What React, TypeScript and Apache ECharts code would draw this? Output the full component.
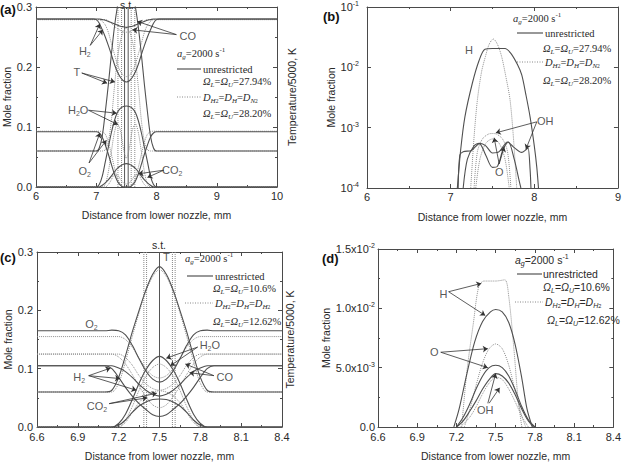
import React, { useEffect, useRef } from "react";
import * as echarts from "echarts";

// ---------- Panel (a): shared x grid (mm) ----------
const xA = [6, 6.95, 7.0, 7.05, 7.1, 7.15, 7.2, 7.25, 7.3, 7.35, 7.4, 7.45, 7.5, 7.55, 7.6, 7.65, 7.7, 7.75, 7.8, 7.85, 7.9, 7.95, 8.0, 8.05, 10];
const aT_s = [0.06, 0.06, 0.06, 0.065, 0.085, 0.125, 0.17, 0.22, 0.265, 0.3, 0.325, 0.338, 0.342, 0.338, 0.325, 0.3, 0.265, 0.22, 0.17, 0.125, 0.085, 0.065, 0.06, 0.06, 0.06];
const aT_d = [0.06, 0.06, 0.06, 0.06, 0.06, 0.062, 0.075, 0.11, 0.165, 0.213, 0.243, 0.259, 0.265, 0.259, 0.243, 0.213, 0.165, 0.11, 0.075, 0.062, 0.06, 0.06, 0.06, 0.06, 0.06];
const aH2_s = [0.28, 0.28, 0.279, 0.273, 0.262, 0.25, 0.236, 0.221, 0.205, 0.192, 0.183, 0.177, 0.175, 0.177, 0.183, 0.192, 0.205, 0.221, 0.236, 0.25, 0.262, 0.273, 0.279, 0.28, 0.28];
const aH2_d = [0.279, 0.279, 0.279, 0.279, 0.276, 0.27, 0.258, 0.24, 0.222, 0.205, 0.193, 0.186, 0.184, 0.186, 0.193, 0.205, 0.222, 0.24, 0.258, 0.27, 0.276, 0.279, 0.279, 0.279, 0.279];
const aCO_s = [0.28, 0.28, 0.28, 0.28, 0.279, 0.278, 0.276, 0.274, 0.272, 0.27, 0.268, 0.267, 0.266, 0.267, 0.268, 0.27, 0.272, 0.274, 0.276, 0.278, 0.279, 0.28, 0.28, 0.28, 0.28];
const aCO_d = [0.279, 0.279, 0.279, 0.279, 0.279, 0.279, 0.277, 0.273, 0.268, 0.264, 0.261, 0.259, 0.258, 0.259, 0.261, 0.264, 0.268, 0.273, 0.277, 0.279, 0.279, 0.279, 0.279, 0.279, 0.279];
const aO2_s = [0.092, 0.092, 0.092, 0.09, 0.083, 0.07, 0.055, 0.038, 0.022, 0.01, 0.003, 0, 0, 0, 0.003, 0.01, 0.022, 0.038, 0.055, 0.07, 0.083, 0.09, 0.092, 0.092, 0.092];
const aO2_d = [0.093, 0.093, 0.093, 0.093, 0.092, 0.088, 0.075, 0.055, 0.033, 0.015, 0.005, 0.001, 0, 0.001, 0.005, 0.015, 0.033, 0.055, 0.075, 0.088, 0.092, 0.093, 0.093, 0.093, 0.093];
const aH2O_s = [0, 0, 0, 0.004, 0.018, 0.042, 0.066, 0.09, 0.11, 0.124, 0.131, 0.134, 0.135, 0.134, 0.131, 0.124, 0.11, 0.09, 0.066, 0.042, 0.018, 0.004, 0, 0, 0];
const aH2O_d = [0, 0, 0, 0, 0, 0.005, 0.025, 0.058, 0.09, 0.105, 0.095, 0.065, 0.048, 0.065, 0.095, 0.105, 0.09, 0.058, 0.025, 0.005, 0, 0, 0, 0, 0];
const aCO2_s = [0, 0, 0, 0, 0.003, 0.007, 0.012, 0.018, 0.025, 0.031, 0.035, 0.038, 0.039, 0.038, 0.035, 0.031, 0.025, 0.018, 0.012, 0.007, 0.003, 0, 0, 0, 0];
const aCO2_d = [0, 0, 0, 0, 0, 0, 0.004, 0.012, 0.02, 0.02, 0.013, 0.007, 0.005, 0.007, 0.013, 0.02, 0.02, 0.012, 0.004, 0, 0, 0, 0, 0, 0];
const aVertSolid = [7.47, 7.53];
const aVertDotted = [7.36, 7.42, 7.58, 7.64];

// ---------- Panel (b): log scale, [x, y] pairs ----------
const bH_s = [[7.08, 1e-4], [7.12, 4.3e-4], [7.17, 1.5e-3], [7.26, 5.5e-3], [7.34, 1.3e-2], [7.41, 2e-2], [7.5, 2.05e-2], [7.65, 2.05e-2], [7.72, 1.7e-2], [7.8, 1.1e-2], [7.85, 7.5e-3], [7.9, 3.5e-3], [7.95, 1.5e-3], [8.0, 5e-4], [8.03, 2.2e-4], [8.05, 1e-4]];
const bH_d = [[7.24, 1e-4], [7.28, 7e-4], [7.32, 2.9e-3], [7.37, 8.5e-3], [7.415, 1.5e-2], [7.46, 2.4e-2], [7.51, 2.95e-2], [7.56, 2.4e-2], [7.61, 1.5e-2], [7.66, 7e-3], [7.71, 2.9e-3], [7.75, 7e-4], [7.79, 1e-4]];
const bOH_s = [[7.09, 1e-4], [7.11, 3.5e-4], [7.15, 4e-4], [7.25, 4.2e-4], [7.35, 5.5e-4], [7.42, 5e-4], [7.5, 3.8e-4], [7.58, 4e-4], [7.68, 5.8e-4], [7.75, 4.8e-4], [7.85, 3.9e-4], [7.9, 4.3e-4], [7.925, 4.6e-4], [7.95, 2e-4], [7.96, 1e-4]];
const bO_s = [[7.15, 1e-4], [7.2, 3e-4], [7.28, 5e-4], [7.34, 5.5e-4], [7.42, 3.5e-4], [7.5, 2.2e-4], [7.56, 2.3e-4], [7.63, 4.5e-4], [7.69, 5.8e-4], [7.76, 3e-4], [7.82, 1.3e-4], [7.84, 1e-4]];
const bOH_d = [[7.28, 1e-4], [7.32, 4e-4], [7.38, 6.5e-4], [7.45, 7.8e-4], [7.5, 8e-4], [7.55, 7.8e-4], [7.62, 6.5e-4], [7.68, 4e-4], [7.72, 1e-4]];
const bO_d = [[7.3, 1e-4], [7.35, 3e-4], [7.42, 5.5e-4], [7.5, 6.5e-4], [7.58, 5.5e-4], [7.65, 3e-4], [7.7, 1e-4]];

// ---------- Panel (c): shared x grid ----------
const xC = [6.6, 7.1, 7.15, 7.2, 7.25, 7.3, 7.35, 7.4, 7.45, 7.5, 7.55, 7.6, 7.65, 7.7, 7.75, 7.8, 7.85, 7.9, 8.4];
const cT_s = [0.06, 0.06, 0.063, 0.085, 0.122, 0.163, 0.2, 0.235, 0.262, 0.275, 0.262, 0.235, 0.2, 0.163, 0.122, 0.085, 0.063, 0.06, 0.06];
const cT_d = [0.06, 0.06, 0.06, 0.075, 0.112, 0.155, 0.196, 0.232, 0.258, 0.27, 0.258, 0.232, 0.196, 0.155, 0.112, 0.075, 0.06, 0.06, 0.06];
const cO2_s = [0.165, 0.165, 0.166, 0.165, 0.158, 0.14, 0.117, 0.096, 0.082, 0.077, 0.082, 0.096, 0.117, 0.14, 0.158, 0.165, 0.166, 0.165, 0.165];
const cO2_d = [0.155, 0.155, 0.155, 0.155, 0.15, 0.137, 0.118, 0.1, 0.088, 0.084, 0.088, 0.1, 0.118, 0.137, 0.15, 0.155, 0.155, 0.155, 0.155];
const cH2_s = [0.105, 0.105, 0.1, 0.085, 0.068, 0.053, 0.04, 0.03, 0.021, 0.018, 0.021, 0.03, 0.04, 0.053, 0.068, 0.085, 0.1, 0.105, 0.105];
const cH2_d = [0.125, 0.125, 0.125, 0.12, 0.108, 0.09, 0.07, 0.052, 0.038, 0.033, 0.038, 0.052, 0.07, 0.09, 0.108, 0.12, 0.125, 0.125, 0.125];
const cCO_s = [0.105, 0.105, 0.105, 0.101, 0.095, 0.085, 0.073, 0.063, 0.056, 0.053, 0.056, 0.063, 0.073, 0.085, 0.095, 0.101, 0.105, 0.105, 0.105];
const cCO_d = [0.125, 0.125, 0.125, 0.125, 0.119, 0.106, 0.088, 0.074, 0.066, 0.063, 0.066, 0.074, 0.088, 0.106, 0.119, 0.125, 0.125, 0.125, 0.125];
const cH2O_s = [0, 0, 0, 0.006, 0.022, 0.047, 0.075, 0.098, 0.114, 0.121, 0.114, 0.098, 0.075, 0.047, 0.022, 0.006, 0, 0, 0];
const cH2O_d = [0, 0, 0, 0, 0.012, 0.035, 0.063, 0.087, 0.102, 0.108, 0.102, 0.087, 0.063, 0.035, 0.012, 0, 0, 0, 0];
const cCO2_s = [0, 0, 0, 0.003, 0.012, 0.025, 0.036, 0.043, 0.047, 0.048, 0.047, 0.043, 0.036, 0.025, 0.012, 0.003, 0, 0, 0];
const cCO2_d = [0, 0, 0, 0, 0.008, 0.025, 0.042, 0.053, 0.06, 0.062, 0.06, 0.053, 0.042, 0.025, 0.008, 0, 0, 0, 0];
const cVertSolid = [7.5];
const cVertDotted = [7.385, 7.405, 7.595, 7.615];

// ---------- Panel (d): [x, y] pairs ----------
const dH_s = [[7.18, 0], [7.22, 0.0015], [7.28, 0.0045], [7.34, 0.0072], [7.4, 0.0089], [7.46, 0.0097], [7.5, 0.0099], [7.55, 0.0097], [7.6, 0.0088], [7.65, 0.0069], [7.7, 0.0041], [7.74, 0.0015], [7.78, 0]];
const dH_d = [[7.24, 0], [7.28, 0.0047], [7.33, 0.0088], [7.37, 0.0118], [7.41, 0.0123], [7.5, 0.0123], [7.57, 0.0124], [7.6, 0.011], [7.64, 0.0065], [7.67, 0.0025], [7.7, 0]];
const dO_s = [[7.2, 0], [7.25, 0.0008], [7.3, 0.0019], [7.35, 0.0032], [7.4, 0.0043], [7.45, 0.005], [7.5, 0.0052], [7.55, 0.005], [7.6, 0.0043], [7.65, 0.0031], [7.7, 0.0017], [7.75, 0.0006], [7.8, 0]];
const dO_d = [[7.26, 0], [7.3, 0.0014], [7.35, 0.0035], [7.4, 0.0054], [7.45, 0.0066], [7.5, 0.007], [7.55, 0.0066], [7.6, 0.0052], [7.65, 0.003], [7.7, 0.0009], [7.73, 0]];
const dOH_s = [[7.2, 0], [7.25, 0.0005], [7.3, 0.0013], [7.35, 0.0022], [7.4, 0.0032], [7.45, 0.004], [7.5, 0.0045], [7.55, 0.0043], [7.6, 0.0037], [7.65, 0.0027], [7.7, 0.0015], [7.75, 0.0005], [7.79, 0]];
const dOH_d = [[7.23, 0], [7.3, 0.0008], [7.35, 0.0017], [7.4, 0.0028], [7.45, 0.0037], [7.5, 0.0042], [7.55, 0.004], [7.6, 0.0032], [7.65, 0.0021], [7.7, 0.0009], [7.75, 0]];

// ---------- annotation labels and arrows (data coordinates) ----------
const aLabels = [["{n|H}{s|2}", 6.81, 0.227], ["{n|T}", 6.68, 0.192], ["{n|CO}", 8.52, 0.252], ["{n|H}{s|2}{n|O}", 6.7, 0.128], ["{n|O}{s|2}", 6.81, 0.027], ["{n|CO}{s|2}", 8.26, 0.028]];
const aArrows = [[6.9, 0.236, 7.06, 0.272], [6.9, 0.236, 7.11, 0.262], [6.76, 0.19, 7.18, 0.173], [6.76, 0.19, 7.31, 0.175], [8.33, 0.254, 7.68, 0.276], [8.33, 0.254, 7.6, 0.262], [6.87, 0.128, 7.34, 0.123], [6.87, 0.128, 7.36, 0.104], [6.88, 0.04, 7.06, 0.09], [6.88, 0.04, 7.17, 0.078], [8.12, 0.028, 7.85, 0.016], [8.12, 0.028, 7.7, 0.022]];
const bLabels = [["{n|H}", 7.22, 0.0194], ["{n|OH}", 8.13, 1.29e-3], ["{n|O}", 7.58, 1.84e-4]];
const bArrows = [[8.03, 1.25e-3, 7.54, 8.2e-4], [8.03, 1.25e-3, 7.9, 4.4e-4], [7.58, 2.5e-4, 7.52, 6.8e-4], [7.58, 2.5e-4, 7.64, 4.8e-4]];
const cLabels = [["{n|O}{s|2}", 7.0, 0.177], ["{n|T}", 7.55, 0.292], ["{n|H}{s|2}{n|O}", 7.87, 0.141], ["{n|H}{s|2}", 6.91, 0.085], ["{n|CO}", 7.98, 0.085], ["{n|CO}{s|2}", 7.04, 0.036]];
const cArrows = [[7.78, 0.137, 7.55, 0.118], [7.78, 0.137, 7.58, 0.105], [6.98, 0.088, 7.14, 0.101], [6.98, 0.088, 7.21, 0.083], [6.98, 0.088, 7.33, 0.063], [7.9, 0.088, 7.69, 0.108], [7.9, 0.088, 7.72, 0.093], [7.13, 0.04, 7.48, 0.058], [7.13, 0.04, 7.41, 0.05]];
const dLabels = [["{n|H}", 7.1, 0.01125], ["{n|O}", 7.03, 0.0063], ["{n|OH}", 7.42, 0.0014]];
const dArrows = [[7.14, 0.0114, 7.39, 0.0121], [7.14, 0.0114, 7.42, 0.0094], [7.08, 0.0063, 7.44, 0.0066], [7.08, 0.0063, 7.44, 0.005], [7.44, 0.002, 7.5, 0.0045], [7.45, 0.002, 7.53, 0.0033]];

const SANS = '"Liberation Sans", Arial, sans-serif';
const SERIF = '"Liberation Serif", "Times New Roman", serif';
const AXC = "#4a4a4a";
const TXT = "#2a2a2a";
const SOLID = { color: "#505050", width: 1.1, type: "solid" };
const DOT = { color: "#8f8f8f", width: 1, type: "dotted" };

const zip = (xs: number[], ys: number[]) => xs.map((x, i) => [x, ys[i]]);

function curve(p: number, data: any[], dotted: boolean) {
  return {
    type: "line", xAxisIndex: 2 * p, yAxisIndex: 2 * p, data, symbol: "none", showSymbol: false,
    smooth: 0.3, lineStyle: dotted ? DOT : SOLID, silent: true, z: dotted ? 2 : 3,
  };
}
function vline(p: number, x: number, y0: number, y1: number, dotted: boolean) {
  return {
    type: "line", xAxisIndex: 2 * p, yAxisIndex: 2 * p, data: [[x, y0], [x, y1]], symbol: "none",
    lineStyle: dotted ? { color: "#8a8a8a", width: 1, type: "dotted" } : { color: "#555", width: 1 }, silent: true, z: 1,
  };
}
const LBL_RICH = {
  n: { fontSize: 11, fontFamily: SANS, color: TXT, lineHeight: 14 },
  s: { fontSize: 7, fontFamily: SANS, color: TXT, lineHeight: 6, verticalAlign: "bottom" },
};
function labels(p: number, items: any[]) {
  return {
    type: "scatter", xAxisIndex: 2 * p, yAxisIndex: 2 * p, symbolSize: 0, silent: true, z: 6,
    data: items.map((l) => ({ value: [l[1], l[2]], label: { show: true, position: "inside", formatter: l[0], rich: LBL_RICH } })),
  };
}
function arrows(p: number, items: number[][]) {
  return {
    type: "lines", coordinateSystem: "cartesian2d", xAxisIndex: 2 * p, yAxisIndex: 2 * p,
    symbol: ["none", "arrow"], symbolSize: 5, silent: true, z: 5,
    lineStyle: { color: "#333", width: 0.8, opacity: 1, curveness: 0 },
    data: items.map((a) => ({ coords: [[a[0], a[1]], [a[2], a[3]]] })),
  };
}

function xAxes(p: number, min: number, max: number, interval: number, fmt: any, nameGap: number, margin: number) {
  const common: any = {
    gridIndex: p, type: "value", min, max, interval,
    axisLine: { show: true, onZero: false, lineStyle: { color: AXC, width: 1 } },
    axisTick: { show: true, inside: true, length: 4, lineStyle: { color: AXC } },
    minorTick: { show: true, splitNumber: 2, length: 2, lineStyle: { color: AXC } },
    splitLine: { show: false }, minorSplitLine: { show: false },
  };
  return [
    {
      ...common, position: "bottom",
      axisLabel: { show: true, margin, fontSize: 11, color: TXT, fontFamily: SANS, formatter: fmt },
      name: "Distance from lower nozzle, mm", nameLocation: "middle", nameGap,
      nameTextStyle: { fontSize: 10.5, color: TXT, fontFamily: SANS },
    },
    { ...common, position: "top", axisLabel: { show: false } },
  ];
}
function yAxes(p: number, o: any) {
  const common: any = {
    gridIndex: p, type: o.log ? "log" : "value", min: o.min, max: o.max,
    axisLine: { show: true, onZero: false, lineStyle: { color: AXC, width: 1 } },
    axisTick: { show: true, inside: true, length: 4, lineStyle: { color: AXC } },
    minorTick: { show: !o.log, splitNumber: 2, length: 2, lineStyle: { color: AXC } },
    splitLine: { show: false }, minorSplitLine: { show: false },
  };
  if (o.log) common.logBase = 10; else common.interval = o.interval;
  return [
    {
      ...common, position: "left",
      axisLabel: {
        show: true, margin: o.margin, fontSize: 11, color: TXT, fontFamily: SANS, formatter: o.fmt,
        rich: {
          n: { fontSize: 11, fontFamily: SANS, color: TXT, lineHeight: 14 },
          e: { fontSize: 7, fontFamily: SANS, color: TXT, lineHeight: 4, verticalAlign: "top" },
        },
      },
      name: "Mole fraction", nameLocation: "middle", nameGap: o.nameGap, nameRotate: 90,
      nameTextStyle: { fontSize: 10.5, color: TXT, fontFamily: SANS },
    },
    {
      ...common, position: "right", axisLabel: { show: false },
      name: o.rightName || "", nameLocation: "middle", nameGap: o.rightGap || 0, nameRotate: 90,
      nameTextStyle: { fontSize: 10.5, color: TXT, fontFamily: SANS },
    },
  ];
}

const f1 = (v: number) => v.toFixed(1);
const fLog = (v: number) => `{n|10}{e|${Math.round(Math.log10(v))}}`;
const fSci = (v: number) => {
  if (v === 0) return "0.0";
  const ex = Math.floor(Math.log10(v) + 1e-9);
  return `{n|${(v / Math.pow(10, ex)).toFixed(1)}x10}{e|${ex}}`;
};

// ---------- legends (graphic text) ----------
function legend(o: any) {
  const fam = o.serif ? SERIF : SANS;
  const rich = {
    n: { fontSize: 10.5, fontFamily: fam, fill: TXT, lineHeight: 14 },
    i: { fontSize: 10.5, fontFamily: fam, fontStyle: "italic", fill: TXT, lineHeight: 14 },
    sb: { fontSize: 7, fontFamily: fam, fontStyle: "italic", fill: TXT, lineHeight: 6, verticalAlign: "bottom" },
    sb2: { fontSize: 5.5, fontFamily: fam, fill: TXT, lineHeight: 2, verticalAlign: "bottom" },
    sp: { fontSize: 7, fontFamily: fam, fill: TXT, lineHeight: 4, verticalAlign: "top" },
  };
  const t = (x: number, y: number, text: string) => ({
    type: "text", x, y, silent: true, z: 10,
    style: { text, rich, fill: TXT, font: `10.5px ${fam}`, verticalAlign: "middle", align: "left" },
  });
  return [
    t(o.agX, o.rows[0], "{i|a}{sb|g}{n|=2000 s}{sp|-1}"),
    { type: "line", silent: true, shape: { x1: o.l0, y1: o.rows[1], x2: o.l1, y2: o.rows[1] }, style: { stroke: "#444", lineWidth: 1.1 } },
    t(o.tx, o.rows[1], "{n|unrestricted}"),
    t(o.ox1, o.rows[2], `{i|Ω}{sb|L}{n|=}{i|Ω}{sb|U}{n|=${o.om1}}`),
    { type: "line", silent: true, shape: { x1: o.d0, y1: o.rows[3], x2: o.d1, y2: o.rows[3] }, style: { stroke: "#888", lineWidth: 1, lineDash: [1, 1.5] } },
    t(o.dx, o.rows[3], o.dText),
    t(o.ox2, o.rows[4], `{i|Ω}{sb|L}{n|=}{i|Ω}{sb|U}{n|=${o.om2}}`),
  ];
}
const D_HN = "{i|D}{sb|H}{sb2|2}{n|=}{i|D}{sb|H}{n|=}{i|D}{sb|N}{sb2|2}";
const D_HH = "{i|D}{sb|H}{sb2|2}{n|=}{i|D}{sb|H}{n|=}{i|D}{sb|H}{sb2|2}";

function buildOption() {
  const series: any[] = [];
  // (a)
  [[aT_s, 0], [aT_d, 1], [aH2_s, 0], [aH2_d, 1], [aCO_s, 0], [aCO_d, 1], [aO2_s, 0], [aO2_d, 1], [aH2O_s, 0], [aH2O_d, 1], [aCO2_s, 0], [aCO2_d, 1]]
    .forEach(([ys, d]: any) => series.push(curve(0, zip(xA, ys), !!d)));
  aVertSolid.forEach((x) => series.push(vline(0, x, 0, 0.3, false)));
  aVertDotted.forEach((x) => series.push(vline(0, x, 0, 0.3, true)));
  series.push(arrows(0, aArrows), labels(0, aLabels));
  // (b)
  [[bH_s, 0], [bH_d, 1], [bOH_s, 0], [bO_s, 0], [bOH_d, 1], [bO_d, 1]].forEach(([d, dt]: any) => series.push(curve(1, d, !!dt)));
  series.push(arrows(1, bArrows), labels(1, bLabels));
  // (c)
  [[cT_s, 0], [cT_d, 1], [cO2_s, 0], [cO2_d, 1], [cH2_s, 0], [cH2_d, 1], [cCO_s, 0], [cCO_d, 1], [cH2O_s, 0], [cH2O_d, 1], [cCO2_s, 0], [cCO2_d, 1]]
    .forEach(([ys, d]: any) => series.push(curve(2, zip(xC, ys), !!d)));
  cVertSolid.forEach((x) => series.push(vline(2, x, 0, 0.3, false)));
  cVertDotted.forEach((x) => series.push(vline(2, x, 0, 0.3, true)));
  series.push(arrows(2, cArrows), labels(2, cLabels));
  // (d)
  [[dH_s, 0], [dH_d, 1], [dO_s, 0], [dO_d, 1], [dOH_s, 0], [dOH_d, 1]].forEach(([d, dt]: any) => series.push(curve(3, d, !!dt)));
  series.push(arrows(3, dArrows), labels(3, dLabels));

  const panelLbl = (x: number, y: number, t: string) => ({
    type: "text", x, y, silent: true, style: { text: t, font: `bold 13px ${SANS}`, fill: "#111", verticalAlign: "middle", align: "left" },
  });
  const st = (x: number, y: number) => ({
    type: "text", x, y, silent: true, style: { text: "s.t.", font: `10.5px ${SANS}`, fill: TXT, verticalAlign: "middle", align: "center" },
  });

  return {
    animation: false,
    backgroundColor: "#ffffff",
    grid: [
      { left: 36, top: 7, width: 241, height: 180 },
      { left: 367, top: 7, width: 253, height: 181 },
      { left: 37, top: 252, width: 245, height: 181 },
      { left: 378, top: 249, width: 245, height: 184 },
    ],
    xAxis: [
      ...xAxes(0, 6, 10, 1, undefined, 22, 3),
      ...xAxes(1, 6, 9, 1, undefined, 23, 3),
      ...xAxes(2, 6.6, 8.4, 0.3, f1, 23, 4),
      ...xAxes(3, 6.6, 8.4, 0.3, f1, 23, 4),
    ],
    yAxis: [
      ...yAxes(0, { min: 0, max: 0.3, interval: 0.1, fmt: f1, margin: 4, nameGap: 22, rightName: "Temperature/5000, K", rightGap: 9 }),
      ...yAxes(1, { log: true, min: 1e-4, max: 1e-1, fmt: fLog, margin: 8, nameGap: 25 }),
      ...yAxes(2, { min: 0, max: 0.3, interval: 0.1, fmt: f1, margin: 4, nameGap: 23, rightName: "Temperature/5000, K", rightGap: 2 }),
      ...yAxes(3, { min: 0, max: 0.015, interval: 0.005, fmt: fSci, margin: 3, nameGap: 44 }),
    ],
    series,
    graphic: [
      panelLbl(0, 9, "(a)"), panelLbl(323, 16, "(b)"), panelLbl(0, 257, "(c)"), panelLbl(322, 258, "(d)"),
      st(127, 5), st(159, 245),
      ...legend({ serif: true, agX: 177, rows: [53, 69, 81, 97, 113], l0: 177, l1: 201, tx: 203, ox1: 203, om1: "27.94%", d0: 177, d1: 201, dx: 203, dText: D_HN, ox2: 203, om2: "28.20%" }),
      ...legend({ serif: true, agX: 513, rows: [18, 33, 48, 62, 80], l0: 517, l1: 543, tx: 545, ox1: 543, om1: "27.94%", d0: 517, d1: 543, dx: 545, dText: D_HN, ox2: 543, om2: "28.20%" }),
      ...legend({ serif: true, agX: 185, rows: [258, 276, 288, 303, 321], l0: 187, l1: 213, tx: 215, ox1: 213, om1: "10.6%", d0: 185, d1: 213, dx: 215, dText: D_HH, ox2: 213, om2: "12.62%" }),
      ...legend({ serif: false, agX: 515, rows: [260, 274, 287, 302, 320], l0: 517, l1: 542, tx: 543, ox1: 543, om1: "10.6%", d0: 515, d1: 543, dx: 545, dText: D_HH, ox2: 547, om2: "12.62%" }),
    ],
  };
}

export default function App() {
  const ref = useRef<HTMLDivElement>(null);
  useEffect(() => {
    if (!ref.current) return;
    const chart = echarts.init(ref.current, undefined, { renderer: "svg" });
    chart.setOption(buildOption() as any);
    return () => chart.dispose();
  }, []);
  return <div ref={ref} style={{ position: "fixed", left: 0, top: 0, width: 624, height: 462, background: "#fff" }} />;
}
